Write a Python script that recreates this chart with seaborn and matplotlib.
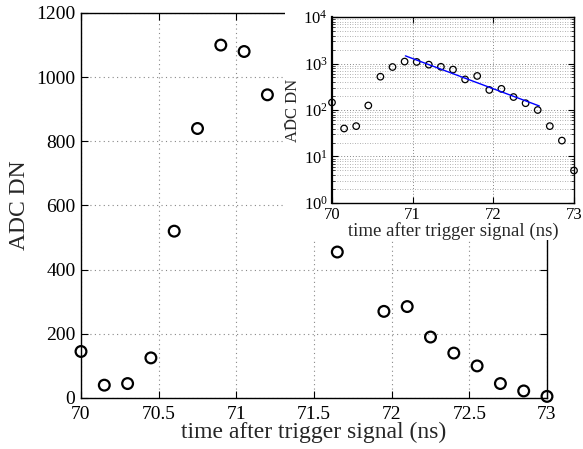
import matplotlib
matplotlib.use("Agg")
import matplotlib.pyplot as plt
import seaborn as sns
import numpy as np
import pandas as pd
from matplotlib.patches import Rectangle
from matplotlib.ticker import LogLocator, LogFormatterMathtext

# data
time_ns = [70.0, 70.15, 70.3, 70.45, 70.6, 70.75, 70.9, 71.05, 71.2, 71.35, 71.5,
           71.65, 71.8, 71.95, 72.1, 72.25, 72.4, 72.55, 72.7, 72.85, 73.0]
adc_dn = [145, 40, 45, 125, 520, 840, 1100, 1080, 945, 850, 740,
          455, 540, 270, 285, 190, 140, 100, 45, 22, 5]
fit_time = [70.91, 72.57]
fit_adc = [1460, 122]

main_xticks = [70, 70.5, 71, 71.5, 72, 72.5, 73]
main_yticks = [0, 200, 400, 600, 800, 1000, 1200]
inset_xticks = [70, 71, 72, 73]

sns.set_style("ticks")
plt.rcParams['font.family'] = ['Liberation Serif', 'DejaVu Serif']
plt.rcParams['mathtext.fontset'] = 'stix'
plt.rcParams['xtick.direction'] = 'in'
plt.rcParams['ytick.direction'] = 'in'

df = pd.DataFrame({"t": time_ns, "adc": adc_dn})
fit = pd.DataFrame({"t": fit_time, "adc": fit_adc})

fig = plt.figure(figsize=(5.83, 4.49), dpi=100)
ax = fig.add_axes([81/583, 51/449, 466/583, 385/449])
sns.scatterplot(data=df, x="t", y="adc", ax=ax, marker="o", s=60,
                facecolor="none", edgecolor="black", linewidth=1.6, zorder=3,
                clip_on=False)
ax.set_xlim(70, 73)
ax.set_ylim(0, 1200)
ax.set_xticks(main_xticks)
ax.set_xticklabels([f"{v:g}" for v in main_xticks])
ax.set_yticks(main_yticks)
ax.grid(True, linestyle=(0, (1, 3)), color="#888888", linewidth=0.8)
ax.tick_params(labelsize=14, top=True, right=True, length=5, width=0.8, colors="black")
ax.tick_params(axis="x", pad=6)
ax.tick_params(axis="y", pad=4)
for s in ax.spines.values():
    s.set_linewidth(1.0)
    s.set_color("black")
ax.set_xlabel("time after trigger signal (ns)", fontsize=17, labelpad=-1)
ax.set_ylabel("ADC DN", fontsize=17)
ax.yaxis.set_label_coords(-0.11, 0.5)

# white backing of the inset figure region
fig.add_artist(Rectangle((285/583, (449-240)/449), 1 - 285/583, 240/449,
                         transform=fig.transFigure, facecolor="white",
                         edgecolor="none", zorder=0.5))

# inset
ax2 = fig.add_axes([332/583, 246/449, 242/583, 186/449])
ax2.set_zorder(1)
ax2.set_facecolor("white")
sns.scatterplot(data=df, x="t", y="adc", ax=ax2, marker="o", s=22,
                facecolor="none", edgecolor="black", linewidth=0.9, zorder=3,
                clip_on=False)
sns.lineplot(data=fit, x="t", y="adc", ax=ax2, color="blue", linewidth=1.0, zorder=4)
ax2.set_yscale("log")
ax2.set_xlim(70, 73)
ax2.set_ylim(1, 1e4)
ax2.set_xticks(inset_xticks)
ax2.set_xticklabels([f"{v:g}" for v in inset_xticks])
ax2.yaxis.set_major_locator(LogLocator(base=10, numticks=10))
ax2.yaxis.set_minor_locator(LogLocator(base=10, subs=np.arange(2, 10), numticks=100))
ax2.yaxis.set_major_formatter(LogFormatterMathtext())
ax2.grid(True, which="major", linestyle=(0, (1, 2)), color="#888888", linewidth=0.7)
ax2.grid(True, which="minor", axis="y", linestyle=(0, (1, 2)), color="#999999", linewidth=0.6)
ax2.tick_params(labelsize=12, top=True, right=True, length=4, width=0.8, colors="black")
ax2.tick_params(axis="x", pad=3)
ax2.tick_params(axis="y", pad=3)
ax2.tick_params(which="minor", right=True, length=2)
for s in ax2.spines.values():
    s.set_linewidth(1.0)
    s.set_color("black")
ax2.spines["left"].set_linewidth(1.6)
ax2.set_xlabel("time after trigger signal (ns)", fontsize=13.5)
ax2.xaxis.set_label_coords(0.5, -0.105)
ax2.set_ylabel("ADC DN", fontsize=12)
ax2.yaxis.set_label_coords(-0.13, 0.5)

fig.savefig("out.png", dpi=100)
